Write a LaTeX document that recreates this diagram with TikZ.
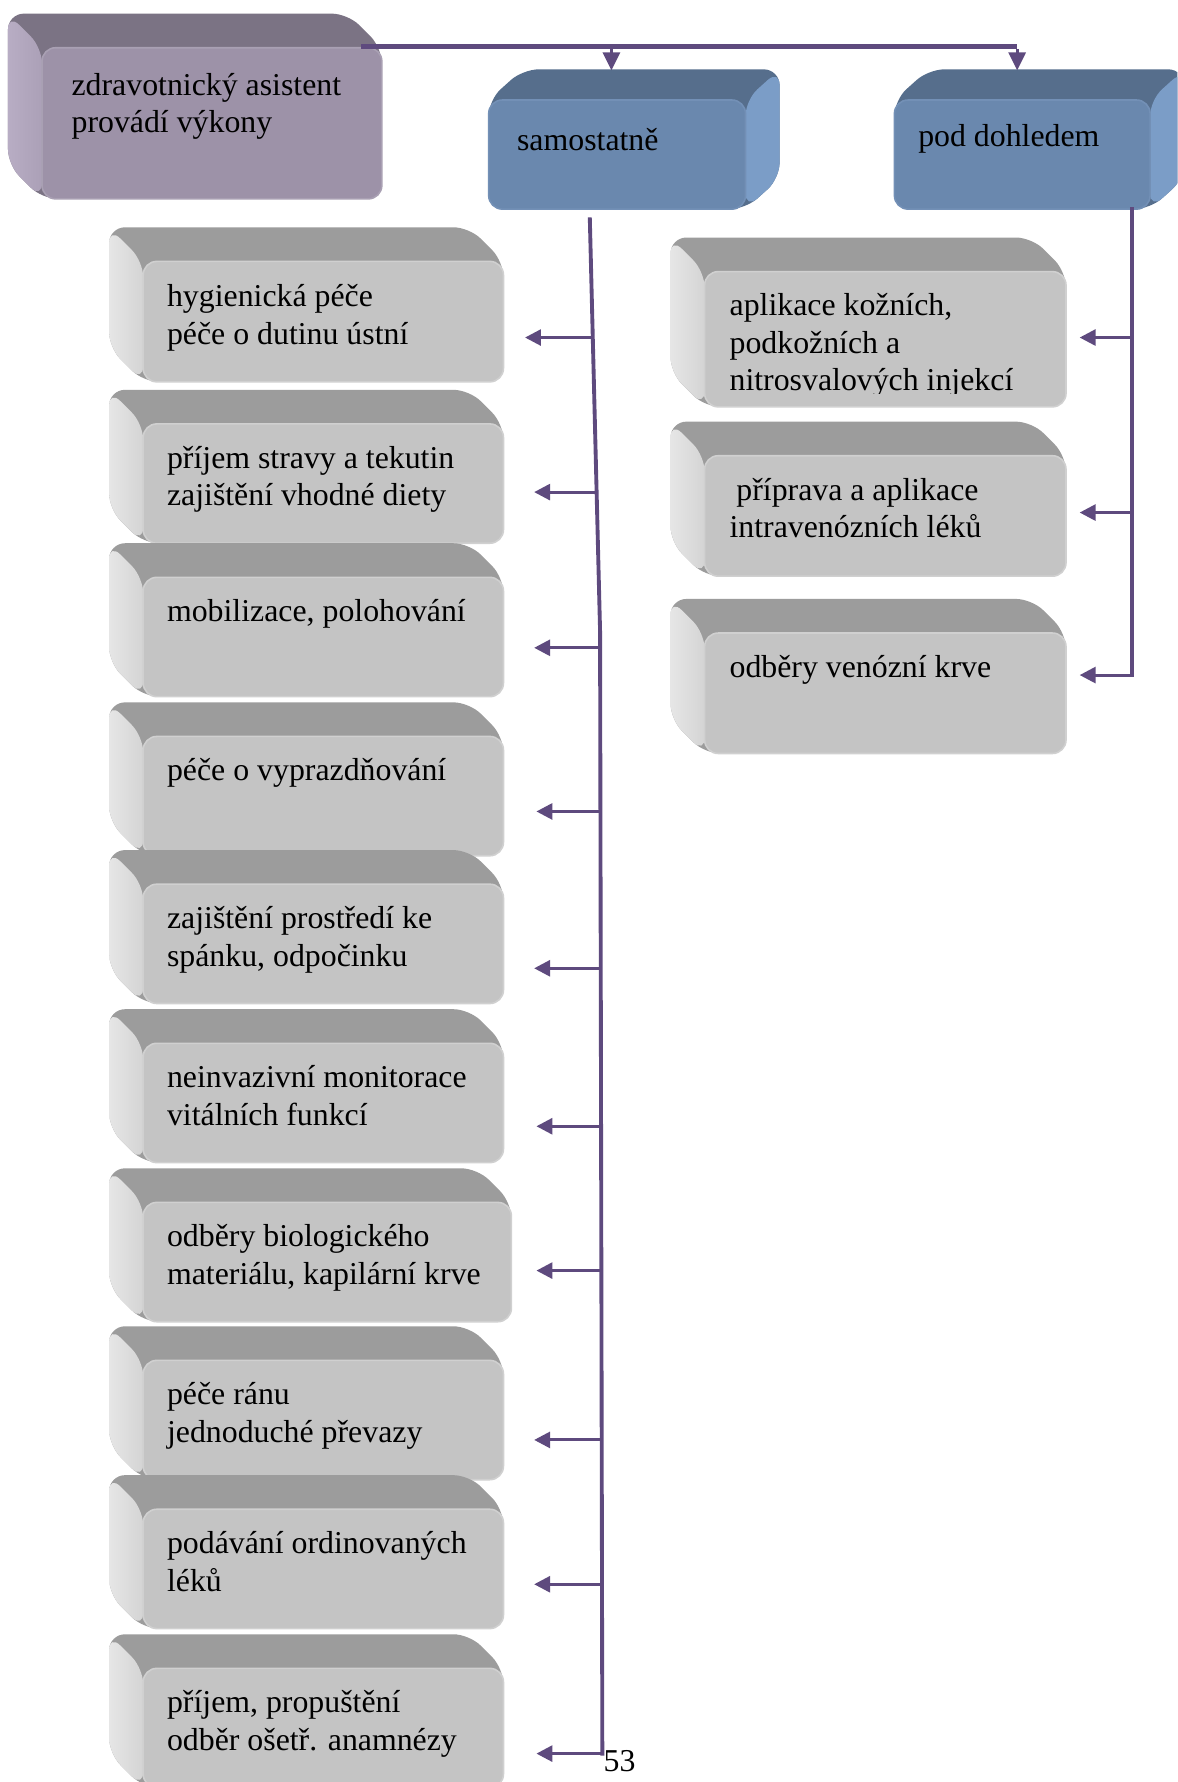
\documentclass[tikz,border=0pt]{standalone}
\usepackage{fontspec}
\setmainfont{Liberation Serif}
\usetikzlibrary{arrows.meta}

% palettes: front face, top face, side face, rim of the front face
\definecolor{greyfront}{HTML}{C4C4C4}
\definecolor{greytop}{HTML}{9C9C9C}
\definecolor{greysideA}{HTML}{E6E6E6}
\definecolor{greysideB}{HTML}{D4D4D4}
\definecolor{greyedge}{HTML}{D0D0D0}
\definecolor{lilfront}{HTML}{9D92A8}
\definecolor{liltop}{HTML}{7B7384}
\definecolor{lilsideA}{HTML}{B8ADC4}
\definecolor{lilsideB}{HTML}{ABA0B7}
\definecolor{liledge}{HTML}{A9A0B3}
\definecolor{bluefront}{HTML}{6A88AE}
\definecolor{bluetop}{HTML}{566E8C}
\definecolor{blueside}{HTML}{7B9DC7}
\definecolor{blueedge}{HTML}{7390B6}
\definecolor{link}{HTML}{5E4A7E}

\tikzset{
  face/.style={rectangle, rounded corners=12pt, inner sep=0pt, outer sep=0pt,
    line width=1.4pt, anchor=north west},
  boxtext/.style={inner sep=0pt, outer sep=0pt, align=left, anchor=north west,
    font=\fontsize{28}{33}\selectfont, text=black},
  mainline/.style={draw=link, line width=4.5pt},
  trunk/.style={draw=link, line width=3.4pt, line cap=rect},
  branch/.style={draw=link, line width=2.6pt, -{Triangle[length=14pt,width=14pt]}},
  drop/.style={draw=link, line width=2.6pt, -{Triangle[length=16pt,width=15pt]}},
}

% the three faces of a box whose depth recedes up and to the left
% #1 name, #2 x1, #3 y1, #4 x2, #5 y2, #6 palette
\newcommand\leftsolid[6]{%
  \fill[#6top, rounded corners=14pt] (#2-30,#3-30) -- (#4-30,#3-30) -- (#4,#3)
    -- (#4,#5) -- (#2,#5) -- (#2-30,#5-30) -- cycle;
  \shade[left color=#6sideA, right color=#6sideB, rounded corners=14pt]
    (#2-30,#3-30) -- (#2,#3) -- (#2,#5) -- (#2-30,#5-30) -- cycle;
  \node[face, fill=#6front, draw=#6edge, minimum width={#4-#2}, minimum height={#5-#3}]
    (#1) at (#2,#3) {};
}

% the same box with its text; #7 text x, #8 baseline y, #9 text
\newcommand\backleftbox[9]{%
  \leftsolid{#1}{#2}{#3}{#4}{#5}{#6}
  \node[boxtext] (#1-text) at (#7,{#8-23.1}) {\strut #9};
}

% box whose depth recedes up and to the right
% #1 name, #2 x1, #3 y1, #4 x2, #5 y2, #6 text x, #7 baseline y, #8 text
\newcommand\backrightbox[8]{%
  \fill[bluetop, rounded corners=14pt] (#2,#3) -- (#2+30,#3-27) -- (#4+30,#3-27)
    -- (#4+30,#5-27) -- (#4,#5) -- (#2,#5) -- cycle;
  \fill[blueside, rounded corners=14pt] (#4,#3) -- (#4+30,#3-27) -- (#4+30,#5-27)
    -- (#4,#5) -- cycle;
  \node[face, fill=bluefront, draw=blueedge, minimum width={#4-#2}, minimum height={#5-#3}]
    (#1) at (#2,#3) {};
  \node[boxtext] (#1-text) at (#6,{#7-23.1}) {\strut #8};
}

\begin{document}
\begin{tikzpicture}[x=1pt, y=-1pt]
\clip (0,0) rectangle (1036,1568);
\fill[white] (0,0) rectangle (1036,1568);

% heading box and the two categories
\backleftbox{root}{37}{42}{336}{175}{lil}{63}{84}{zdravotnický asistent\\provádí výkony}
\backrightbox{samo}{430}{88}{656}{184}{455}{132}{samostatně}
\backrightbox{dohled}{787}{88}{1012}{184}{808}{129}{pod dohledem}

% tasks done independently
\backleftbox{s1}{126}{230}{443}{336}{grey}{147}{270}{hygienická péče\\péče o dutinu ústní}
\backleftbox{s2}{126}{373}{443}{478}{grey}{147}{412}{příjem stravy a tekutin\\zajištění vhodné diety}
\backleftbox{s3}{126}{508}{443}{613}{grey}{147}{547}{mobilizace, polohování}
\backleftbox{s4}{126}{648}{443}{753}{grey}{147}{687}{péče o vyprazdňování}
\backleftbox{s5}{126}{778}{443}{883}{grey}{147}{817}{zajištění prostředí ke\\spánku, odpočinku}
\backleftbox{s6}{126}{918}{443}{1023}{grey}{147}{957}{neinvazivní monitorace\\vitálních funkcí}
\backleftbox{s7}{126}{1058}{450}{1163}{grey}{147}{1097}{odběry biologického\\materiálu, kapilární krve}
\backleftbox{s8}{126}{1197}{443}{1302}{grey}{147}{1236}{péče ránu\\jednoduché převazy}
\backleftbox{s9}{126}{1328}{443}{1433}{grey}{147}{1367}{podávání ordinovaných\\léků}
\backleftbox{s10}{126}{1468}{443}{1573}{grey}{147}{1507}{příjem, propuštění\\odběr ošetř. anamnézy}

% tasks done under supervision (the first text is cut off at its third line)
\leftsolid{d1}{620}{239}{938}{358}{grey}
\begin{scope}
  \clip (600,230) rectangle (940,346);
  \node[boxtext] (d1-text) at (642,{278-23.1}) {\strut aplikace kožních,\\podkožních a\\nitrosvalových injekcí};
\end{scope}
\backleftbox{d2}{620}{401}{938}{507}{grey}{642}{440}{\hspace*{6pt}příprava a aplikace\\intravenózních léků}
\backleftbox{d3}{620}{557}{938}{663}{grey}{642}{596}{odběry venózní krve}

% top distribution line
\coordinate (h0) at (318,41);
\coordinate (hs) at (538,41);
\coordinate (hd) at (895,41);
\coordinate (samoTop) at (538,62);
\coordinate (dohledTop) at (895,62);
\draw[mainline] (h0) -- (hd);
\draw[drop] (hs) -- (samoTop);
\draw[drop] ([yshift=-2pt]hd) -- (dohledTop);

% trunk below "samostatně"
\coordinate (sTop) at (519,193);
\coordinate (sKink) at (528,555);
\coordinate (sEnd) at (530,1543);
\draw[trunk] (sTop) -- (sKink) -- (sEnd);
\coordinate (t1) at (521.6,297);
\coordinate (t2) at (525,433);
\coordinate (t3) at (528,570);
\coordinate (t4) at (528.3,714);
\coordinate (t5) at (528.6,852);
\coordinate (t6) at (528.9,991);
\coordinate (t7) at (529.1,1118);
\coordinate (t8) at (529.4,1267);
\coordinate (t9) at (529.7,1394);
\draw[branch, shorten >=19pt] (t1) -- (s1.east |- t1);
\draw[branch, shorten >=27pt] (t2) -- (s2.east |- t2);
\draw[branch, shorten >=27pt] (t3) -- (s3.east |- t3);
\draw[branch, shorten >=29pt] (t4) -- (s4.east |- t4);
\draw[branch, shorten >=27pt] (t5) -- (s5.east |- t5);
\draw[branch, shorten >=29pt] (t6) -- (s6.east |- t6);
\draw[branch, shorten >=22pt] (t7) -- (s7.east |- t7);
\draw[branch, shorten >=27pt] (t8) -- (s8.east |- t8);
\draw[branch, shorten >=27pt] (t9) -- (s9.east |- t9);
\draw[branch, shorten >=29pt] (sEnd) -- (s10.east |- sEnd);

% trunk below "pod dohledem"
\coordinate (dTop) at (996,184);
\coordinate (dEnd) at (996,594);
\coordinate (u1) at (996,297);
\coordinate (u2) at (996,451);
\draw[trunk] (dTop) -- (dEnd);
\draw[branch, shorten >=12pt] (u1) -- (d1.east |- u1);
\draw[branch, shorten >=12pt] (u2) -- (d2.east |- u2);
\draw[branch, shorten >=12pt] (dEnd) -- (d3.east |- dEnd);

% page number
\node[inner sep=0pt, anchor=base west, font=\fontsize{28}{33}\selectfont] (pageno) at (531,1559) {53};
\end{tikzpicture}
\end{document}
